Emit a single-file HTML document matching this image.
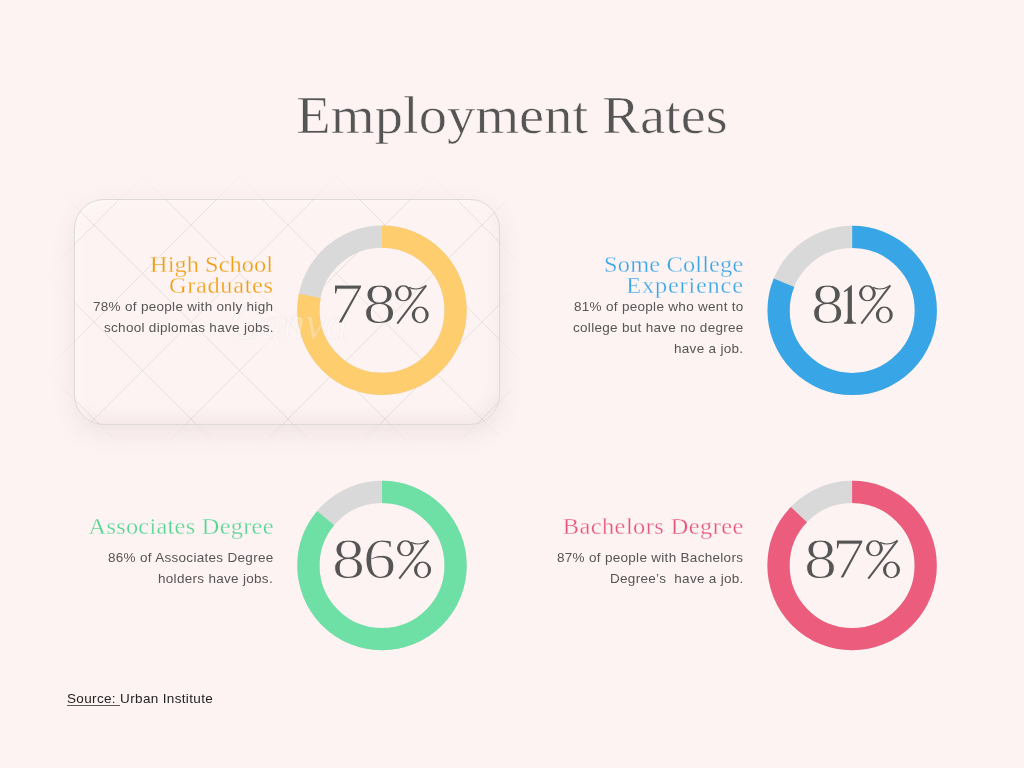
<!DOCTYPE html>
<html>
<head>
<meta charset="utf-8">
<style>
html,body{margin:0;padding:0;}
body{width:1024px;height:768px;background:#fdf3f2;position:relative;overflow:hidden;}
.t{position:absolute;white-space:nowrap;line-height:1;will-change:transform;}
.serif{font-family:"Liberation Serif",serif;}
.sans{font-family:"Liberation Sans",sans-serif;}
#title{left:0;width:1024px;text-align:center;top:89px;font-size:53px;color:#555555;letter-spacing:0px;transform:scaleX(1.066);transform-origin:512px 0;-webkit-text-stroke:0.6px #fdf3f2;}
.hd{font-size:23px;text-align:right;-webkit-text-stroke:0.3px #fdf3f2;transform:scaleX(1.06);transform-origin:100% 0;}
.body{font-size:13.5px;color:#555555;text-align:right;letter-spacing:0.3px;}
.pct{font-size:56px;color:#555555;text-align:center;width:170px;letter-spacing:-2px;}
svg.d{position:absolute;}
.dg{position:absolute;font-family:"Liberation Serif",serif;font-size:57.5px;line-height:1;color:#555555;transform-origin:0 0;white-space:nowrap;-webkit-text-stroke:1px #fdf3f2;}
.pc{position:absolute;overflow:visible;}
#box{position:absolute;left:74px;top:198.5px;width:424px;height:224px;border:1.5px solid rgba(160,165,172,0.32);border-radius:30px;box-shadow:0 8px 24px rgba(80,65,70,0.085), inset -8px -14px 16px -8px rgba(80,65,70,0.06), inset 8px 8px 16px -8px rgba(255,255,255,0.5);}
</style>
</head>
<body>
<div id="box"></div>
<svg style="position:absolute;left:0;top:0" width="1024" height="768" viewBox="0 0 1024 768">
<defs>
<clipPath id="cb"><rect x="75" y="199.5" width="424" height="225" rx="30" ry="30"/></clipPath>
<filter id="bl" x="-20%" y="-20%" width="140%" height="140%"><feGaussianBlur stdDeviation="8"/></filter>
<filter id="bl2" x="-50%" y="-50%" width="200%" height="200%"><feGaussianBlur stdDeviation="6"/></filter>
<mask id="mk"><rect x="55" y="180" width="464" height="265" rx="40" fill="#fff" filter="url(#bl)"/></mask>
<mask id="mk2"><rect x="75" y="199.5" width="424" height="225" rx="30" fill="#fff"/><ellipse cx="290" cy="320" rx="62" ry="34" fill="#000" filter="url(#bl2)"/></mask>
</defs>
<g stroke="rgba(110,115,125,0.05)" stroke-width="1" mask="url(#mk)">
<line x1="20" y1="-431" x2="560" y2="109"/>
<line x1="20" y1="-334" x2="560" y2="206"/>
<line x1="20" y1="-237" x2="560" y2="303"/>
<line x1="20" y1="-140" x2="560" y2="400"/>
<line x1="20" y1="-43" x2="560" y2="497"/>
<line x1="20" y1="54" x2="560" y2="594"/>
<line x1="20" y1="151" x2="560" y2="691"/>
<line x1="20" y1="248" x2="560" y2="788"/>
<line x1="20" y1="345" x2="560" y2="885"/>
<line x1="20" y1="442" x2="560" y2="982"/>
<line x1="20" y1="539" x2="560" y2="1079"/>
<line x1="20" y1="105" x2="560" y2="-435"/>
<line x1="20" y1="202" x2="560" y2="-338"/>
<line x1="20" y1="299" x2="560" y2="-241"/>
<line x1="20" y1="396" x2="560" y2="-144"/>
<line x1="20" y1="493" x2="560" y2="-47"/>
<line x1="20" y1="590" x2="560" y2="50"/>
<line x1="20" y1="687" x2="560" y2="147"/>
<line x1="20" y1="784" x2="560" y2="244"/>
<line x1="20" y1="881" x2="560" y2="341"/>
<line x1="20" y1="978" x2="560" y2="438"/>
<line x1="20" y1="1075" x2="560" y2="535"/>
</g>
<g stroke="rgba(110,115,125,0.09)" stroke-width="1" mask="url(#mk2)">
<line x1="20" y1="-431" x2="560" y2="109"/>
<line x1="20" y1="-334" x2="560" y2="206"/>
<line x1="20" y1="-237" x2="560" y2="303"/>
<line x1="20" y1="-140" x2="560" y2="400"/>
<line x1="20" y1="-43" x2="560" y2="497"/>
<line x1="20" y1="54" x2="560" y2="594"/>
<line x1="20" y1="151" x2="560" y2="691"/>
<line x1="20" y1="248" x2="560" y2="788"/>
<line x1="20" y1="345" x2="560" y2="885"/>
<line x1="20" y1="442" x2="560" y2="982"/>
<line x1="20" y1="539" x2="560" y2="1079"/>
<line x1="20" y1="105" x2="560" y2="-435"/>
<line x1="20" y1="202" x2="560" y2="-338"/>
<line x1="20" y1="299" x2="560" y2="-241"/>
<line x1="20" y1="396" x2="560" y2="-144"/>
<line x1="20" y1="493" x2="560" y2="-47"/>
<line x1="20" y1="590" x2="560" y2="50"/>
<line x1="20" y1="687" x2="560" y2="147"/>
<line x1="20" y1="784" x2="560" y2="244"/>
<line x1="20" y1="881" x2="560" y2="341"/>
<line x1="20" y1="978" x2="560" y2="438"/>
<line x1="20" y1="1075" x2="560" y2="535"/>
</g>
</svg>


<div id="title" class="t serif">Employment Rates</div>

<!-- donuts -->
<svg class="d" style="left:0;top:0" width="1024" height="768" viewBox="0 0 1024 768">
<circle cx="382" cy="310.3" r="73.6" fill="none" stroke="#d9d9d9" stroke-width="22.2"/>
<circle cx="382" cy="310.3" r="73.6" fill="none" stroke="#fecd6e" stroke-width="22.2" stroke-dasharray="360.71 462.44" transform="rotate(-90 382 310.3)"/>
<circle cx="852.2" cy="310.4" r="73.6" fill="none" stroke="#d9d9d9" stroke-width="22.2"/>
<circle cx="852.2" cy="310.4" r="73.6" fill="none" stroke="#38a6e6" stroke-width="22.2" stroke-dasharray="374.58 462.44" transform="rotate(-90 852.2 310.4)"/>
<circle cx="382" cy="565.5" r="73.6" fill="none" stroke="#d9d9d9" stroke-width="22.2"/>
<circle cx="382" cy="565.5" r="73.6" fill="none" stroke="#6ee0a6" stroke-width="22.2" stroke-dasharray="397.70 462.44" transform="rotate(-90 382 565.5)"/>
<circle cx="852.1" cy="565.5" r="73.6" fill="none" stroke="#d9d9d9" stroke-width="22.2"/>
<circle cx="852.1" cy="565.5" r="73.6" fill="none" stroke="#ec5c7c" stroke-width="22.2" stroke-dasharray="402.32 462.44" transform="rotate(-90 852.1 565.5)"/>
</svg>

<div class="t serif" style="left:229px;top:299px;font-size:48px;font-style:italic;color:rgba(255,255,255,0.3);-webkit-text-stroke:0.6px rgba(120,120,130,0.08);transform:scaleX(0.95);transform-origin:0 0;">Canva</div>
<span class="dg" style="left:329.97px;top:275.10px;transform:scaleX(1.167)">7</span>
<span class="dg" style="left:362.51px;top:275.10px;transform:scaleX(1.154)">8</span>
<svg class="pc" style="left:394.20px;top:284.06px" width="37" height="41"><g transform="translate(1 1) scale(0.9883 1)" fill="#555555"><path fill-rule="evenodd" d="M0.00,8.35a8.50,8.00 0 1,0 17.00,0a8.50,8.00 0 1,0 -17.00,0ZM3.10,8.35a5.40,6.90 0 1,0 10.80,0a5.40,6.90 0 1,0 -10.80,0ZM17.00,29.90a8.55,8.40 0 1,0 17.10,0a8.55,8.40 0 1,0 -17.10,0ZM20.15,29.90a5.40,7.25 0 1,0 10.80,0a5.40,7.25 0 1,0 -10.80,0Z"/><line x1="31.6" y1="0.3" x2="2.3" y2="38.7" stroke="#555555" stroke-width="2"/><path d="M14.2,2.4 Q22,6.2 30.8,1.0" fill="none" stroke="#555555" stroke-width="1.2"/></g></svg>
<span class="dg" style="left:810.60px;top:275.10px;transform:scaleX(1.158)">8</span>
<svg class="pc" style="left:0;top:0" width="1024" height="768"><g fill="#555555"><path d="M847.7,323.2 L847.7,290.6 L844.1,292.2 L843.8,291.2 L851.9,284.8 L851.9,323.2 Z"/><path d="M843.9,323.8 L856.1,323.8 L856.1,322.6 Q852.3,322.4 851.9,318.5 L847.7,318.5 Q847.3,322.4 843.9,322.6 Z"/></g></svg>
<svg class="pc" style="left:857.80px;top:284.06px" width="37" height="41"><g transform="translate(1 1) scale(0.9912 1)" fill="#555555"><path fill-rule="evenodd" d="M0.00,8.35a8.50,8.00 0 1,0 17.00,0a8.50,8.00 0 1,0 -17.00,0ZM3.10,8.35a5.40,6.90 0 1,0 10.80,0a5.40,6.90 0 1,0 -10.80,0ZM17.00,29.90a8.55,8.40 0 1,0 17.10,0a8.55,8.40 0 1,0 -17.10,0ZM20.15,29.90a5.40,7.25 0 1,0 10.80,0a5.40,7.25 0 1,0 -10.80,0Z"/><line x1="31.6" y1="0.3" x2="2.3" y2="38.7" stroke="#555555" stroke-width="2"/><path d="M14.2,2.4 Q22,6.2 30.8,1.0" fill="none" stroke="#555555" stroke-width="1.2"/></g></svg>
<span class="dg" style="left:332.12px;top:530.10px;transform:scaleX(1.150)">8</span>
<span class="dg" style="left:363.38px;top:530.10px;transform:scaleX(1.145)">6</span>
<svg class="pc" style="left:395.80px;top:539.06px" width="37" height="41"><g transform="translate(1 1) scale(1.0000 1)" fill="#555555"><path fill-rule="evenodd" d="M0.00,8.35a8.50,8.00 0 1,0 17.00,0a8.50,8.00 0 1,0 -17.00,0ZM3.10,8.35a5.40,6.90 0 1,0 10.80,0a5.40,6.90 0 1,0 -10.80,0ZM17.00,29.90a8.55,8.40 0 1,0 17.10,0a8.55,8.40 0 1,0 -17.10,0ZM20.15,29.90a5.40,7.25 0 1,0 10.80,0a5.40,7.25 0 1,0 -10.80,0Z"/><line x1="31.6" y1="0.3" x2="2.3" y2="38.7" stroke="#555555" stroke-width="2"/><path d="M14.2,2.4 Q22,6.2 30.8,1.0" fill="none" stroke="#555555" stroke-width="1.2"/></g></svg>
<span class="dg" style="left:803.53px;top:530.10px;transform:scaleX(1.146)">8</span>
<span class="dg" style="left:832.26px;top:530.10px;transform:scaleX(1.141)">7</span>
<svg class="pc" style="left:865.00px;top:539.06px" width="37" height="41"><g transform="translate(1 1) scale(0.9971 1)" fill="#555555"><path fill-rule="evenodd" d="M0.00,8.35a8.50,8.00 0 1,0 17.00,0a8.50,8.00 0 1,0 -17.00,0ZM3.10,8.35a5.40,6.90 0 1,0 10.80,0a5.40,6.90 0 1,0 -10.80,0ZM17.00,29.90a8.55,8.40 0 1,0 17.10,0a8.55,8.40 0 1,0 -17.10,0ZM20.15,29.90a5.40,7.25 0 1,0 10.80,0a5.40,7.25 0 1,0 -10.80,0Z"/><line x1="31.6" y1="0.3" x2="2.3" y2="38.7" stroke="#555555" stroke-width="2"/><path d="M14.2,2.4 Q22,6.2 30.8,1.0" fill="none" stroke="#555555" stroke-width="1.2"/></g></svg>

<!-- block 1 -->
<div class="t serif hd" style="right:750.6px;top:253px;color:#ef9e12;letter-spacing:0.04px">High School</div>
<div class="t serif hd" style="right:750.6px;top:274px;color:#ef9e12;letter-spacing:0.6px">Graduates</div>
<div class="t sans body" style="right:750.6px;top:299.8px">78% of people with only high</div>
<div class="t sans body" style="right:750.6px;top:320.8px">school diplomas have jobs.</div>

<!-- block 2 -->
<div class="t serif hd" style="right:280.4px;top:253px;color:#3ba6e6;letter-spacing:0.14px">Some College</div>
<div class="t serif hd" style="right:280.4px;top:274px;color:#3ba6e6;letter-spacing:0.73px">Experience</div>
<div class="t sans body" style="right:280.4px;top:299.8px">81% of people who went to</div>
<div class="t sans body" style="right:280.4px;top:320.8px">college but have no degree</div>
<div class="t sans body" style="right:280.4px;top:341.8px">have a job.</div>

<!-- block 3 -->
<div class="t serif hd" style="right:750.6px;top:515px;color:#55d592;letter-spacing:0.25px">Associates Degree</div>
<div class="t sans body" style="right:750.6px;top:550.8px">86% of Associates Degree</div>
<div class="t sans body" style="right:750.6px;top:571.8px">holders have jobs.</div>

<!-- block 4 -->
<div class="t serif hd" style="right:280.4px;top:515px;color:#e8557a;letter-spacing:0.42px">Bachelors Degree</div>
<div class="t sans body" style="right:280.4px;top:550.8px">87% of people with Bachelors</div>
<div class="t sans body" style="right:280.4px;top:571.8px">Degree’s&nbsp; have a job.</div>

<div class="t sans" style="left:67px;top:691.5px;font-size:13.5px;color:#222222;letter-spacing:0.35px"><span style="text-decoration:underline;text-decoration-color:#5a5a5a;text-underline-offset:2px">Source: </span>Urban Institute</div>

</body>
</html>
